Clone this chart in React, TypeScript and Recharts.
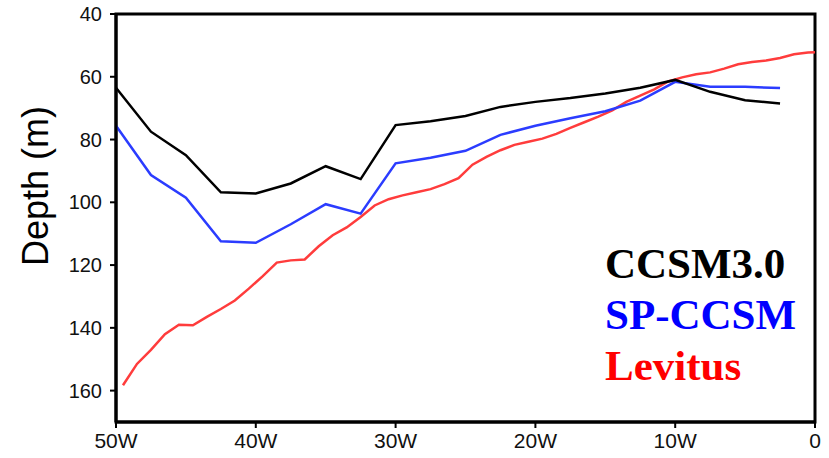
import { LineChart, Line, XAxis, YAxis, Legend, ReferenceArea } from 'recharts';

// longitude (negative = west) and mixed layer depth (m)
const modelLon = [-50, -47.5, -45, -42.5, -40, -37.5, -35, -32.5, -30, -27.5, -25, -22.5, -20, -17.5, -15, -12.5, -10, -7.5, -5, -2.5];
const ccsm3 = [63.5, 77.5, 85, 96.8, 97.2, 94, 88.5, 92.6, 75.4, 74.2, 72.5, 69.6, 68, 66.8, 65.3, 63.5, 61, 64.8, 67.5, 68.5];
const spCcsm = [75.6, 91.3, 98.5, 112.4, 112.9, 107, 100.6, 103.6, 87.6, 85.8, 83.6, 78.5, 75.6, 73.2, 71, 67.6, 61.6, 63.2, 63.2, 63.6];

const levLon = [
  -49.5, -48.5, -47.5, -46.5, -45.5, -44.5, -43.5, -42.5, -41.5, -40.5,
  -39.5, -38.5, -37.5, -36.5, -35.5, -34.5, -33.5, -32.5, -31.5, -30.5,
  -29.5, -28.5, -27.5, -26.5, -25.5, -24.5, -23.5, -22.5, -21.5, -20.5,
  -19.5, -18.5, -17.5, -16.5, -15.5, -14.5, -13.5, -12.5, -11.5, -10.5,
  -9.5, -8.5, -7.5, -6.5, -5.5, -4.5, -3.5, -2.5, -1.5, -0.5, 0,
];
const levitus = [
  158.3, 151.5, 147, 142, 139, 139.2, 136.5, 134, 131.3, 127.5,
  123.5, 119.2, 118.5, 118.2, 114, 110.5, 108, 104.7, 101, 99,
  97.8, 96.8, 95.8, 94.2, 92.3, 88, 85.5, 83.4, 81.7, 80.7,
  79.7, 78.2, 76.3, 74.5, 72.7, 70.7, 68, 66, 64, 61.5,
  60.2, 59.2, 58.6, 57.4, 56, 55.3, 54.8, 54, 52.8, 52.3, 52.2,
];

const xTicks = [-50, -40, -30, -20, -10, 0];
const yTicks = [40, 60, 80, 100, 120, 140, 160];

const seriesNames = ['CCSM3.0', 'SP-CCSM', 'Levitus'];
const lineColors = ['#000000', '#2b3cff', '#ff3c3c'];
const textColors = ['#000000', '#0000ff', '#ff0000'];

const ccsmData = modelLon.map((lon, i) => ({ lon, depth: ccsm3[i] }));
const spData = modelLon.map((lon, i) => ({ lon, depth: spCcsm[i] }));
const levData = levLon.map((lon, i) => ({ lon, depth: levitus[i] }));

const tickStyle = { fontFamily: 'Liberation Sans, Arial, sans-serif', fill: '#111' };

const DepthLabel = () => (
  <text
    x={35}
    y={186}
    transform="rotate(-90 35 186)"
    textAnchor="middle"
    dominantBaseline="central"
    style={{ fontFamily: 'Liberation Sans, Arial, sans-serif', fontSize: 36, fill: '#000' }}
  >
    Depth (m)
  </text>
);

const LegendText = () => (
  <div style={{ fontFamily: '"Liberation Serif", "Times New Roman", serif', fontWeight: 'bold', fontSize: 43, lineHeight: '51px', whiteSpace: 'nowrap' }}>
    {seriesNames.map((n, i) => (
      <div key={n} style={{ color: textColors[i] }}>{n}</div>
    ))}
  </div>
);

export default function App() {
  return (
    <div style={{ position: 'absolute', left: 0, top: 0, background: '#fff' }}>
      <LineChart width={829} height={458} margin={{ top: 14, right: 14, bottom: 0, left: 0 }}>
        <XAxis
          dataKey="lon"
          type="number"
          domain={[-50, 0]}
          ticks={xTicks}
          allowDuplicatedCategory={false}
          tickFormatter={(v: number) => (v === 0 ? '0' : `${-v}W`)}
          height={36}
          tickSize={6}
          tickMargin={5}
          tick={{ ...tickStyle, fontSize: 21 }}
          axisLine={{ stroke: '#000', strokeWidth: 3 }}
          tickLine={{ stroke: '#000', strokeWidth: 2 }}
        />
        <YAxis
          type="number"
          reversed
          domain={[40, 170]}
          ticks={yTicks}
          width={116}
          tickSize={6}
          tickMargin={8}
          tick={{ ...tickStyle, fontSize: 20 }}
          axisLine={{ stroke: '#000', strokeWidth: 3 }}
          tickLine={{ stroke: '#000', strokeWidth: 2 }}
          label={<DepthLabel />}
        />
        <ReferenceArea x1={-50} x2={0} y1={40} y2={170} fill="none" stroke="#000" strokeWidth={3} />
        <Line data={levData} dataKey="depth" name={seriesNames[2]} stroke={lineColors[2]} strokeWidth={2.5} dot={false} isAnimationActive={false} />
        <Line data={spData} dataKey="depth" name={seriesNames[1]} stroke={lineColors[1]} strokeWidth={2.5} dot={false} isAnimationActive={false} />
        <Line data={ccsmData} dataKey="depth" name={seriesNames[0]} stroke={lineColors[0]} strokeWidth={2.5} dot={false} isAnimationActive={false} />
        <Legend
          layout="horizontal"
          verticalAlign="middle"
          align="center"
          content={<LegendText />}
          wrapperStyle={{ left: 605, top: 238, width: 'auto', height: 'auto' }}
        />
      </LineChart>
    </div>
  );
}
